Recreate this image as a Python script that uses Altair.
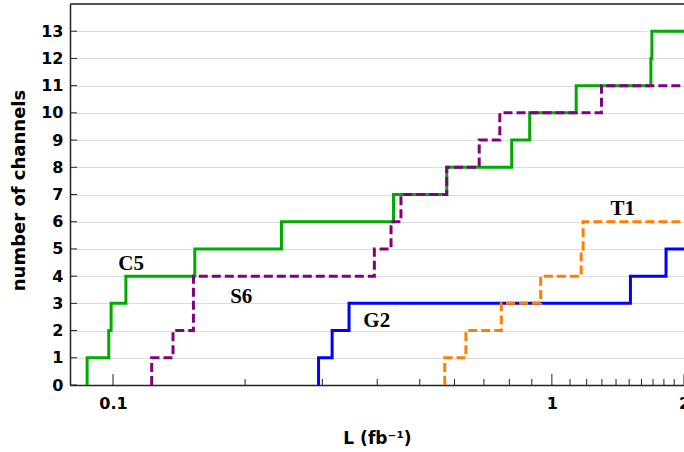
import altair as alt
import pandas as pd

# ---- data (L in fb^-1, number of channels after each step) ----
C5_L = [0.0873, 0.0873, 0.0978, 0.0990, 0.1070, 0.1536, 0.2420, 0.4357, 0.5760, 0.8100, 0.8900, 1.1360, 1.6810, 1.6900, 2.0]
C5_n = [0, 1, 2, 3, 4, 5, 6, 7, 8, 9, 10, 11, 12, 13, 13]

S6_L = [0.1225, 0.1225, 0.1370, 0.1525, 0.1525, 0.3940, 0.4300, 0.4530, 0.5760, 0.6830, 0.7610, 1.2970, 2.0]
S6_n = [0, 1, 2, 3, 4, 5, 6, 7, 8, 9, 10, 11, 11]

G2_L = [0.2940, 0.2940, 0.3157, 0.3450, 1.5100, 1.8200, 2.0]
G2_n = [0, 1, 2, 3, 4, 5, 5]

T1_L = [0.5700, 0.5700, 0.6370, 0.7670, 0.9430, 1.1660, 1.1780, 2.0]
T1_n = [0, 1, 2, 3, 4, 5, 6, 6]

LABELS = ["C5", "S6", "G2", "T1"]
LABEL_L = [0.110, 0.196, 0.399, 1.45]
LABEL_n = [4.45, 3.25, 2.37, 6.45]

Y_TICKS = list(range(0, 14))
X_MAJOR = [0.1, 1, 2]
X_MINOR = [0.2, 0.3, 0.4, 0.5, 0.6, 0.7, 0.8, 0.9,
           1.1, 1.2, 1.3, 1.4, 1.5, 1.6, 1.7, 1.8, 1.9]

SANS = "DejaVu Sans"
SERIF = "Liberation Serif"


def series_df(name, L, n):
    return pd.DataFrame({"L": L, "n": n, "idx": list(range(len(L))), "series": name})


x_scale = alt.Scale(type="log", domain=[0.0798, 2.0], nice=False)
y_scale = alt.Scale(domain=[0, 14], nice=False, zero=False)

x_axis = alt.Axis(
    values=X_MAJOR, format="~g", title="L (fb⁻¹)", grid=False,
    ticks=False, tickSize=0, labelPadding=10, labelFlush=False,
    labelFont=SANS, labelFontWeight="bold", labelFontSize=16, labelColor="black",
    titleFont=SANS, titleFontWeight="bold", titleFontSize=17, titleColor="black",
    titleX=307, titleY=53, titleBaseline="middle", titleAlign="center",
    domainColor="#222222", domainWidth=1.5,
)
y_axis = alt.Axis(
    values=Y_TICKS, title="number of channels", grid=True,
    gridColor="#dcdcdc", gridWidth=1,
    ticks=False, tickSize=0, labelPadding=7,
    labelFont=SANS, labelFontWeight="bold", labelFontSize=16, labelColor="black",
    titleFont=SANS, titleFontWeight="bold", titleFontSize=18, titleColor="black",
    titleX=-51, titleY=186, titleAngle=-90, titleBaseline="middle", titleAlign="center",
    domainColor="#222222", domainWidth=1.5,
)

X = alt.X("L:Q", scale=x_scale, axis=x_axis)
Y = alt.Y("n:Q", scale=y_scale, axis=y_axis)


def step_line(df, color, dash=None):
    kw = dict(interpolate="step-after", color=color, strokeWidth=3, clip=True)
    if dash:
        kw["strokeDash"] = dash
    return alt.Chart(df).mark_line(**kw).encode(x=X, y=Y, order=alt.Order("idx:Q"))


green = step_line(series_df("C5", C5_L, C5_n), "#00aa00")
blue = step_line(series_df("G2", G2_L, G2_n), "#0000ff")
purple = step_line(series_df("S6", S6_L, S6_n), "#800080", [9, 4])
orange = step_line(series_df("T1", T1_L, T1_n), "#ff8000", [9, 4])

ytick = alt.Chart(pd.DataFrame({"n": Y_TICKS})).mark_rule(color="#222222", strokeWidth=1).encode(
    y=Y, x=alt.value(0), x2=alt.value(7))
xmajor = alt.Chart(pd.DataFrame({"L": X_MAJOR})).mark_rule(color="#222222", strokeWidth=1).encode(
    x=X, y=alt.value(381), y2=alt.value(370))
xminor = alt.Chart(pd.DataFrame({"L": X_MINOR})).mark_rule(color="#222222", strokeWidth=1).encode(
    x=X, y=alt.value(381), y2=alt.value(375))
top = alt.Chart(pd.DataFrame({"L": [2.0]})).mark_rule(color="#222222", strokeWidth=1.5).encode(
    x=alt.value(0), x2=alt.value(614), y=alt.value(0))

labels = alt.Chart(pd.DataFrame({"label": LABELS, "L": LABEL_L, "n": LABEL_n})).mark_text(
    font=SERIF, fontWeight="bold", fontSize=21, color="black", baseline="middle", align="center"
).encode(x=X, y=Y, text="label:N")

chart = alt.layer(green, blue, purple, orange, ytick, xmajor, xminor, top, labels).properties(
    width=614, height=381,
    padding={"left": 70, "top": 4, "right": 0, "bottom": 67},
    autosize=alt.AutoSizeParams(type="none"),
).configure_view(strokeWidth=0).configure(background="white")

chart.save("out.html", embed_options={"renderer": "svg", "actions": False})
